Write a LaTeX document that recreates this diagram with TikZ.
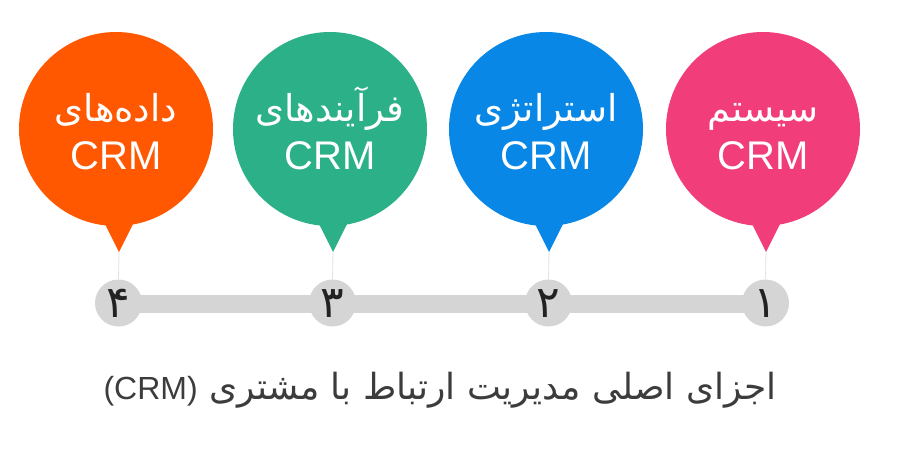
\documentclass[tikz,border=0pt]{standalone}
\usepackage{fontspec}
\setmainfont{Liberation Sans}
\newfontfamily\fa[Script=Arabic]{DejaVu Sans}
\TeXXeTstate=1
\definecolor{corange}{RGB}{255,88,0}
\definecolor{cgreen}{RGB}{43,176,135}
\definecolor{cblue}{RGB}{8,135,230}
\definecolor{cpink}{RGB}{241,61,122}
\definecolor{cbar}{RGB}{213,213,213}
\definecolor{cline}{RGB}{225,225,225}
\definecolor{cdigit}{RGB}{34,34,34}
\definecolor{ccap}{RGB}{60,60,60}
\begin{document}
\begin{tikzpicture}[x=1pt,y=-1pt,
  fatext/.style={text=white,inner sep=0pt,anchor=base,font=\fa\fontsize{37}{42}\selectfont},
  crmtext/.style={text=white,inner sep=0pt,anchor=base,font=\fontsize{40}{45}\selectfont},
  numcirc/.style={circle,fill=cbar,minimum size=47pt,inner sep=0pt},
  digit/.style={text=cdigit,inner sep=0pt,anchor=base,font=\fa\fontsize{44}{48}\selectfont},
  stem/.style={draw=cline,line width=0.8pt}]
\useasboundingbox (0,0) rectangle (900,456);
% bar
\fill[cbar] (118,295) rectangle (766,313);
% pins
\foreach \cx/\tx/\col/\nm in {116/119/corange/a,330/333/cgreen/b,546/549/cblue/c,763/766/cpink/d}{
  \fill[\col] (\cx,129) circle (97);
  \fill[\col] (\tx-17,218) -- (\tx+17,218) -- (\tx,252) -- cycle;
  \coordinate (tip\nm) at (\tx,252);
  \node[numcirc] (n\nm) at (\tx-0.5,303) {};
  \draw[stem] (tip\nm) -- (n\nm.north);
}
\node[fatext] at (116,121) {\beginR داده‌های\endR};
\node[crmtext] at (116,169) {CRM};
\node[fatext] at (330,121) {\beginR فرآیندهای\endR};
\node[crmtext] at (330,169) {CRM};
\node[fatext] at (546,121) {\beginR استراتژی\endR};
\node[crmtext] at (546,169) {CRM};
\node[fatext] at (763,121) {\beginR سیستم\endR};
\node[crmtext] at (763,169) {CRM};
% digits
\node[digit] at (na) [yshift=-14pt] {۴};
\node[digit] at (nb) [yshift=-14pt] {۳};
\node[digit] at (nc) [yshift=-14pt] {۲};
\node[digit] at (nd) [yshift=-14pt] {۱};
% caption
\node[text=ccap,inner sep=0pt,anchor=base,font=\fa\fontsize{36}{40}\selectfont] (cap) at (440,399)
  {\beginR اجزای اصلی مدیریت ارتباط با مشتری \beginL{\fontspec{Liberation Sans}\fontsize{32}{36}\selectfont(CRM)}\endL\endR};
\end{tikzpicture}
\end{document}
